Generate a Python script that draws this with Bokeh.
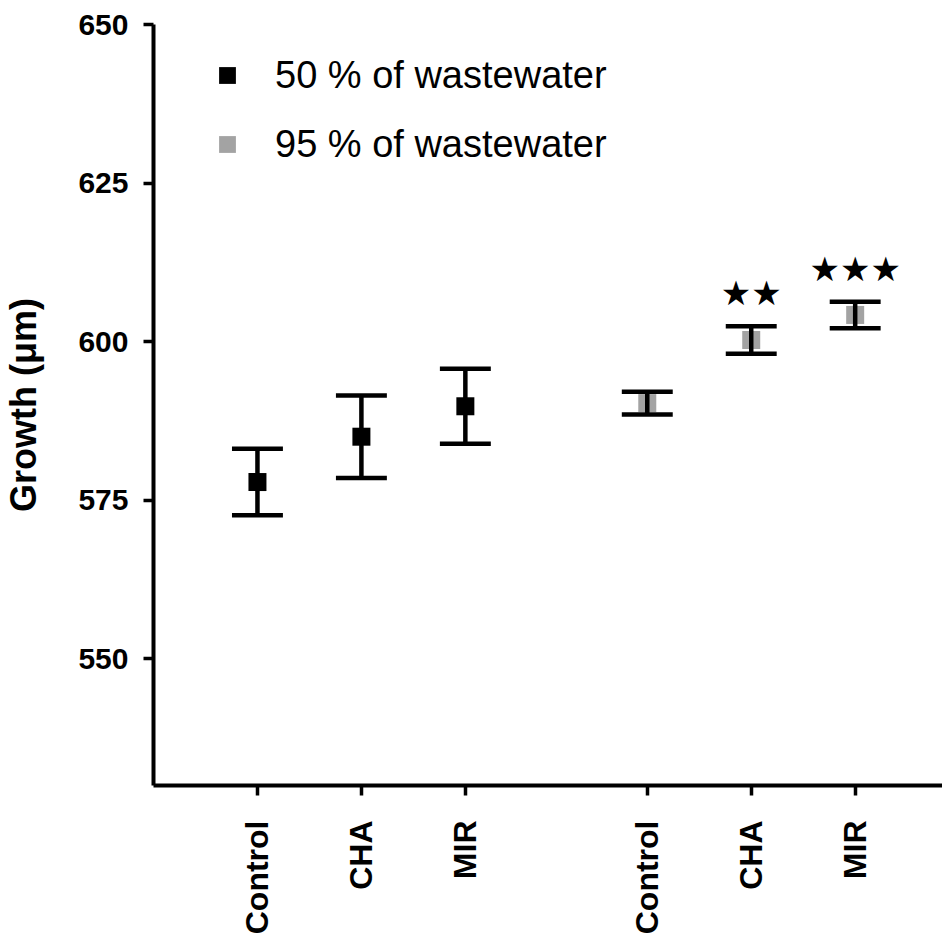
from bokeh.plotting import figure
from bokeh.models import (ColumnDataSource, Range1d, FixedTicker, Legend, LegendItem)
from bokeh.core.properties import value
from bokeh.embed import file_html
from bokeh.resources import INLINE
import math

# ---- data ----
treatments = ["Control", "CHA", "MIR"]
mean_50 = [577.85, 585.0, 589.8]
sem_50 = [5.25, 6.5, 5.9]
mean_95 = [590.3, 600.25, 604.2]
sem_95 = [1.8, 2.15, 2.1]
stars_95 = ["", "★★", "★★★"]
series_labels = ["50 % of wastewater", "95 % of wastewater"]
y_ticks = [550, 575, 600, 625, 650]

# ---- layout ----
group_gap = 1.75
x50 = [i + 1 for i in range(len(treatments))]
x95 = [i + 1 + len(treatments) - 1 + group_gap for i in range(len(treatments))]

FONT = "Liberation Sans"

p = figure(width=942, height=937, output_backend="svg", toolbar_location=None,
           x_range=Range1d(0, 7.59), y_range=Range1d(530, 650),
           min_border_left=151, min_border_top=24, min_border_right=0,
           min_border_bottom=151)
p.outline_line_color = None
p.xgrid.visible = False
p.ygrid.visible = False
p.background_fill_color = "white"
p.border_fill_color = "white"

def src(xs, means, sems):
    return ColumnDataSource(dict(
        x=xs, y=means,
        lo=[m - s for m, s in zip(means, sems)],
        hi=[m + s for m, s in zip(means, sems)],
        xl=[x - 0.245 for x in xs],
        xr=[x + 0.245 for x in xs],
    ))

s50 = src(x50, mean_50, sem_50)
s95 = src(x95, mean_95, sem_95)

r95 = p.scatter("x", "y", source=s95, marker="square", size=18,
                fill_color="#a3a3a3", line_color=None)
for s in (s50, s95):
    p.segment("x", "lo", "x", "hi", source=s, line_color="black", line_width=4.5)
    p.segment("xl", "lo", "xr", "lo", source=s, line_color="black", line_width=4.5)
    p.segment("xl", "hi", "xr", "hi", source=s, line_color="black", line_width=4.5)
r50 = p.scatter("x", "y", source=s50, marker="square", size=18,
                fill_color="black", line_color=None)

star_src = ColumnDataSource(dict(x=x95, y=[m + s for m, s in zip(mean_95, sem_95)],
                                 t=stars_95))
p.text("x", "y", text="t", source=star_src, text_align="center",
       text_baseline="middle", y_offset=-33, text_font=value("DejaVu Sans"),
       text_font_size="34px", text_color="black")

# axes
for ax in (p.xaxis[0], p.yaxis[0]):
    ax.axis_line_width = 4
    ax.axis_line_color = "black"
    ax.major_tick_line_width = 3.5
    ax.major_tick_line_color = "black"
    ax.major_tick_out = 10
    ax.major_tick_in = 0
    ax.minor_tick_line_color = None
    ax.major_label_text_font = FONT
    ax.major_label_text_font_style = "bold"
    ax.major_label_text_color = "black"

p.yaxis.ticker = FixedTicker(ticks=y_ticks)
p.yaxis.major_label_text_font_size = "30px"
p.yaxis.major_label_standoff = 15
p.yaxis.axis_label = "Growth (μm)"
p.yaxis.axis_label_text_font = FONT
p.yaxis.axis_label_text_font_style = "bold"
p.yaxis.axis_label_text_font_size = "36px"
p.yaxis.axis_label_text_color = "black"
p.yaxis.axis_label_standoff = 31

xt = x50 + x95
p.xaxis.ticker = FixedTicker(ticks=xt)
p.xaxis.major_label_overrides = {x: t for x, t in zip(xt, treatments + treatments)}
p.xaxis.major_label_orientation = math.pi / 2
p.xaxis.major_label_text_font_size = "32px"
p.xaxis.major_label_standoff = 25

legend = Legend(items=[LegendItem(label=series_labels[0], renderers=[r50]),
                       LegendItem(label=series_labels[1], renderers=[r95])],
                location=(53, 619), border_line_color=None,
                background_fill_alpha=0, padding=0, margin=0,
                glyph_width=42, glyph_height=44, label_height=44,
                spacing=25, label_standoff=27,
                label_text_font=FONT, label_text_font_size="38px",
                label_text_color="black")
p.add_layout(legend, "center")

open("out.html", "w").write(file_html(p, INLINE))
